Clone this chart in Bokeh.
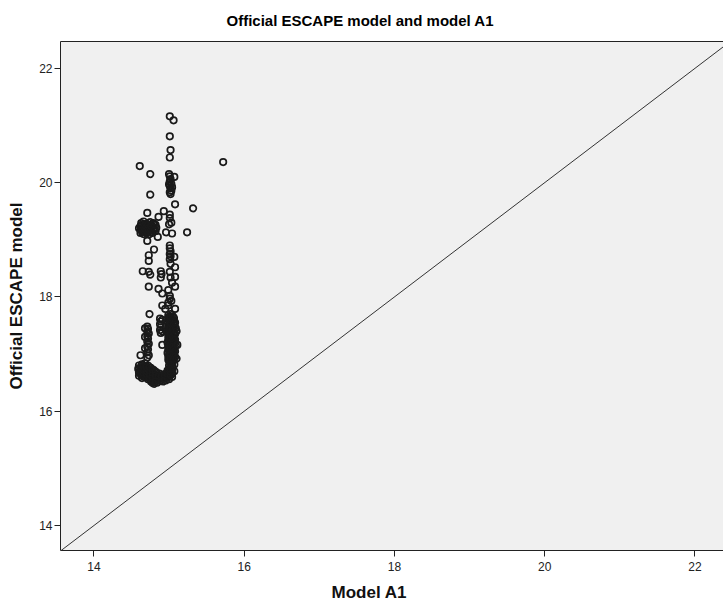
from bokeh.plotting import figure
from bokeh.models import Range1d, Slope, Title, FixedTicker, LinearAxis
from bokeh.embed import file_html
from bokeh.resources import INLINE

# ---- data: (Model A1, Official ESCAPE model) ----
sparse_pts = [
    (15.72, 20.36), (15.32, 19.55), (15.24, 19.13), (14.61, 20.29), (14.75, 20.15), (14.75, 19.79),
    (15.01, 21.16), (15.06, 21.09), (15.01, 20.81), (15.02, 20.57), (15.01, 20.44), (15.08, 19.62),
    (14.71, 19.47), (14.93, 19.50), (14.86, 19.40), (15.01, 19.44), (15.01, 19.38), (15.03, 19.30),
    (15.00, 19.27), (14.96, 19.13), (15.04, 19.11), (14.85, 19.05), (14.71, 18.98), (14.80, 18.83),
    (15.01, 18.90), (15.01, 18.85), (15.02, 18.80), (15.01, 18.75), (15.02, 18.71), (15.07, 18.70),
    (15.01, 18.66), (14.73, 18.73), (14.73, 18.63), (15.08, 18.52), (15.02, 18.58), (14.65, 18.45),
    (14.73, 18.44), (14.75, 18.39), (14.89, 18.45), (14.89, 18.34), (15.01, 18.44), (15.02, 18.34),
    (15.08, 18.35), (14.90, 18.40), (14.73, 18.18), (14.86, 18.14), (14.91, 18.06), (14.99, 18.12),
    (15.08, 18.18), (15.01, 18.02), (15.01, 17.97), (15.04, 18.25), (14.91, 17.85), (14.95, 17.79),
    (14.99, 17.85), (14.99, 17.90), (15.08, 17.79), (14.74, 17.70), (15.03, 17.93),
]

upper_col_pts = [
    (15.00, 20.15), (15.07, 20.10), (15.01, 20.11), (15.02, 20.06), (15.01, 20.02), (15.03, 19.98),
    (15.01, 19.94), (15.02, 19.90), (15.03, 19.86), (15.01, 19.83), (15.02, 19.80), (15.00, 19.97),
    (15.04, 19.92),
]

upper_blob_pts = [
    (14.62, 19.12), (14.62, 19.18), (14.62, 19.24), (14.63, 19.29),
    (14.66, 19.10), (14.66, 19.15), (14.66, 19.21), (14.67, 19.27), (14.66, 19.32),
    (14.70, 19.12), (14.70, 19.17), (14.71, 19.23), (14.70, 19.28),
    (14.74, 19.10), (14.74, 19.15), (14.75, 19.20), (14.74, 19.26), (14.75, 19.31),
    (14.78, 19.12), (14.79, 19.18), (14.78, 19.24), (14.79, 19.29),
    (14.82, 19.15), (14.83, 19.21), (14.82, 19.26), (14.60, 19.20),
    (14.64, 19.14), (14.64, 19.20), (14.64, 19.26), (14.68, 19.13), (14.68, 19.19), (14.68, 19.25),
    (14.72, 19.14), (14.72, 19.20), (14.72, 19.26), (14.76, 19.13), (14.76, 19.18), (14.76, 19.24),
    (14.80, 19.15), (14.80, 19.21), (14.80, 19.27),
]

mid_cols_pts = [
    (14.88, 17.62), (14.89, 17.57), (14.88, 17.52), (14.89, 17.47), (14.88, 17.42), (14.89, 17.37),
    (14.91, 17.60), (14.91, 17.40), (14.91, 17.16),
    (14.71, 17.48), (14.72, 17.44), (14.71, 17.40), (14.73, 17.36), (14.71, 17.31), (14.72, 17.27),
    (14.71, 17.22), (14.73, 17.18), (14.71, 17.13), (14.72, 17.08), (14.71, 17.03), (14.73, 16.98),
    (14.71, 16.94), (14.68, 17.45), (14.68, 17.30), (14.68, 17.10), (14.62, 16.98),
]

lower_col_pts = [
    (14.99, 17.68), (14.99, 17.62), (14.98, 17.56), (14.99, 17.50), (14.99, 17.44), (14.98, 17.38),
    (14.99, 17.32), (14.99, 17.26), (14.98, 17.20), (14.99, 17.14), (14.99, 17.08), (14.98, 17.02),
    (14.99, 16.96), (14.99, 16.90),
    (15.005, 17.65), (15.005, 17.59), (15.005, 17.53), (15.005, 17.47), (15.005, 17.41),
    (15.005, 17.35), (15.005, 17.29), (15.005, 17.23), (15.005, 17.17), (15.005, 17.11),
    (15.005, 17.05), (15.005, 16.99), (15.005, 16.93), (15.005, 16.87),
    (15.02, 17.70), (15.02, 17.64), (15.03, 17.58), (15.02, 17.52), (15.02, 17.46), (15.03, 17.40),
    (15.02, 17.34), (15.02, 17.28), (15.03, 17.22), (15.02, 17.16), (15.02, 17.10), (15.03, 17.04),
    (15.02, 16.98), (15.02, 16.92), (15.03, 16.86),
    (15.05, 17.66), (15.05, 17.60), (15.06, 17.54), (15.05, 17.48), (15.05, 17.42), (15.06, 17.36),
    (15.05, 17.30), (15.05, 17.24), (15.06, 17.18), (15.05, 17.12), (15.05, 17.06), (15.06, 17.00),
    (15.05, 16.94), (15.05, 16.88),
    (15.065, 17.63), (15.065, 17.57), (15.065, 17.51), (15.065, 17.45), (15.065, 17.39),
    (15.065, 17.33), (15.065, 17.27), (15.065, 17.21), (15.065, 17.15), (15.065, 17.09),
    (15.065, 17.03), (15.065, 16.97), (15.065, 16.91),
    (15.08, 17.55), (15.09, 17.45), (15.08, 17.35), (15.08, 17.25), (15.09, 17.15), (15.08, 17.05),
    (15.08, 16.95), (15.10, 17.40), (15.11, 17.16), (15.10, 16.92),
]

bottom_blob_pts = [
    (14.60, 16.62), (14.60, 16.68), (14.59, 16.74), (14.60, 16.80),
    (14.64, 16.58), (14.64, 16.64), (14.63, 16.70), (14.64, 16.76), (14.64, 16.82),
    (14.68, 16.60), (14.68, 16.66), (14.67, 16.72), (14.68, 16.78), (14.68, 16.84),
    (14.72, 16.56), (14.72, 16.62), (14.71, 16.68), (14.72, 16.74), (14.72, 16.80),
    (14.76, 16.58), (14.76, 16.64), (14.75, 16.70), (14.76, 16.76),
    (14.80, 16.54), (14.80, 16.60), (14.79, 16.66), (14.80, 16.72),
    (14.84, 16.56), (14.84, 16.62), (14.83, 16.68),
    (14.76, 16.52), (14.80, 16.48), (14.84, 16.50), (14.88, 16.53), (14.88, 16.59), (14.87, 16.66),
    (14.92, 16.52), (14.92, 16.58), (14.92, 16.64), (14.96, 16.54), (14.96, 16.60), (14.96, 16.66),
    (15.00, 16.56), (15.00, 16.62), (15.00, 16.68), (15.00, 16.74), (15.00, 16.80),
    (15.04, 16.60), (15.04, 16.66), (15.04, 16.72), (15.04, 16.78), (15.04, 16.84),
    (15.07, 16.70), (15.07, 16.82),
    (14.62, 16.65), (14.62, 16.71), (14.62, 16.77), (14.66, 16.61), (14.66, 16.67), (14.66, 16.73),
    (14.66, 16.79), (14.70, 16.59), (14.70, 16.65), (14.70, 16.71), (14.70, 16.77), (14.74, 16.59),
    (14.74, 16.65), (14.74, 16.71), (14.74, 16.77), (14.78, 16.55), (14.78, 16.61), (14.78, 16.67),
    (14.78, 16.73), (14.82, 16.57), (14.82, 16.63), (14.82, 16.69), (14.86, 16.55), (14.86, 16.61),
    (14.90, 16.55), (14.90, 16.61), (14.94, 16.57), (14.94, 16.63), (14.98, 16.59), (14.98, 16.65),
    (14.98, 16.71), (15.02, 16.63), (15.02, 16.69), (15.02, 16.75), (15.02, 16.81), (14.78, 16.50),
    (14.82, 16.52),
]

all_pts = sparse_pts + upper_col_pts + upper_blob_pts + mid_cols_pts + lower_col_pts + bottom_blob_pts
model_a1 = [pt[0] for pt in all_pts]
official_escape = [pt[1] for pt in all_pts]

tick_values = [14, 16, 18, 20, 22]

FONT = "Liberation Sans"

p = figure(width=723, height=602,
           x_range=Range1d(13.555, 22.38), y_range=Range1d(13.563, 22.47),
           output_backend="svg", toolbar_location=None,
           min_border_left=60, min_border_right=0, min_border_top=41, min_border_bottom=52)

p.background_fill_color = "#f0f0f0"
p.border_fill_color = "white"
p.outline_line_color = None
p.grid.visible = False

p.title.text = "Official ESCAPE model and model A1"
p.title.align = "left"
p.title.offset = 166
p.title.vertical_align = "top"
p.title.standoff = 22
p.title.text_font = FONT
p.title.text_font_size = "15px"
p.title.text_font_style = "bold"
p.title.text_color = "#000000"

for ax in (p.xaxis[0], p.yaxis[0]):
    ax.ticker = FixedTicker(ticks=tick_values)
    ax.minor_tick_line_color = None
    ax.major_tick_in = 0
    ax.major_tick_out = 6
    ax.major_tick_line_color = "#222222"
    ax.axis_line_color = "#222222"
    ax.major_label_text_font = FONT
    ax.major_label_text_font_size = "12px"
    ax.major_label_text_color = "#222222"
    ax.major_label_standoff = 2

p.xaxis.major_label_standoff = 5

p.yaxis.axis_label = "Official ESCAPE model"
p.yaxis.axis_label_text_font = FONT
p.yaxis.axis_label_text_font_size = "17px"
p.yaxis.axis_label_text_font_style = "bold"
p.yaxis.axis_label_text_color = "#111111"
p.yaxis.axis_label_standoff = 10

# small blank spacer between tick labels and the x-axis title
p.add_layout(Title(text=" ", text_font=FONT, text_font_size="1px", standoff=4), "below")

p.add_layout(Title(text="Model A1", align="left", offset=271, text_font=FONT, standoff=0,
                   text_font_size="17px", text_font_style="bold", text_color="#111111"), "below")

top_axis = LinearAxis(ticker=FixedTicker(ticks=[]), major_label_text_font_size="0px",
                      major_tick_line_color=None, minor_tick_line_color=None,
                      axis_line_color="#222222")
p.add_layout(top_axis, "above")

p.add_layout(Slope(gradient=1, y_intercept=0, line_color="#333333", line_width=1))

p.scatter(model_a1, official_escape, marker="circle", size=6.5, fill_color=None,
          line_color="#1a1a1a", line_width=1.7)

open("out.html", "w").write(file_html(p, INLINE))
